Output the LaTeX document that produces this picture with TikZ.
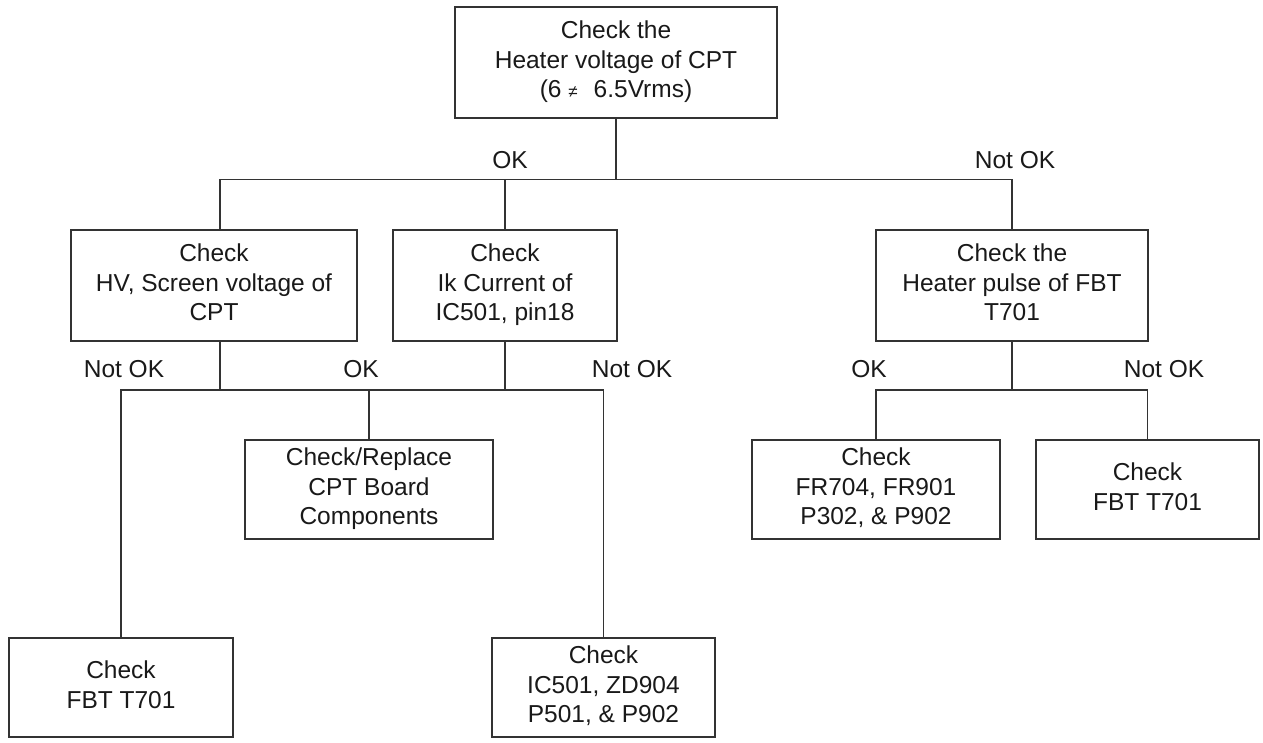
\documentclass[tikz,border=0pt]{standalone}
\usepackage{fontspec}
\setmainfont{Liberation Sans}
\newcommand{\boxstrut}{\rule[-6pt]{0pt}{29.5pt}}
\begin{document}
\begin{tikzpicture}[x=1pt,y=-1pt,
  box/.style={draw=black!80, line width=1.3pt, rectangle, inner sep=0pt, align=center,
    text=black!90, font=\fontsize{24.5}{29.5}\selectfont,
    execute at begin node=\boxstrut, execute at end node=\boxstrut},
  lbl/.style={inner sep=0pt, text=black!90, font=\fontsize{24.5}{29.5}\selectfont},
  conn/.style={draw=black!80, line width=1.3pt}]
\useasboundingbox (0,0) rectangle (1263,742);
% boxes
\node[box, minimum width=322pt, minimum height=111pt] (top) at (616,62.5)
  {Check the\\Heater voltage of CPT\\(6 {\fontsize{17}{20}\selectfont ≠}\hspace{16pt}6.5Vrms)};
\node[box, minimum width=286pt, minimum height=111pt] (A) at (214,285.5)
  {Check\\HV, Screen voltage of\\CPT};
\node[box, minimum width=224pt, minimum height=111pt] (B) at (505,285.5)
  {Check\\Ik Current of\\IC501, pin18};
\node[box, minimum width=272pt, minimum height=111pt] (C) at (1012,285.5)
  {Check the\\Heater pulse of FBT\\T701};
\node[box, minimum width=248pt, minimum height=99pt] (D) at (369,489.5)
  {Check/Replace\\CPT Board\\Components};
\node[box, minimum width=224pt, minimum height=99pt] (E) at (121,687.5)
  {Check\\FBT T701};
\node[box, minimum width=223pt, minimum height=99pt] (F) at (603.5,687.5)
  {Check\\IC501, ZD904\\P501, \& P902};
\node[box, minimum width=248pt, minimum height=99pt] (G) at (876,489.5)
  {Check\\FR704, FR901\\P302, \& P902};
\node[box, minimum width=223pt, minimum height=99pt] (H) at (1147.5,489.5)
  {Check\\FBT T701};
% labels
\node[lbl] (l1) at (510,160) {OK};
\node[lbl] (l2) at (1015,160) {Not OK};
\node[lbl] (l3) at (124,369) {Not OK};
\node[lbl] (l4) at (361,369) {OK};
\node[lbl] (l5) at (632,369) {Not OK};
\node[lbl] (l6) at (869,369) {OK};
\node[lbl] (l7) at (1164,369) {Not OK};
% bus coordinates
\coordinate (t1) at (220,179.5);
\coordinate (la) at (220,390);
\coordinate (rb) at (1012,390);
% connectors
\draw[conn] (top.south) -- (top.south |- t1);
\draw[conn] (A.north -| t1) |- (C.north |- t1) -- (C.north);
\draw[conn] (B.north) -- (B.north |- t1);
\draw[conn] (A.south -| la) -- (la);
\draw[conn] (B.south) -- (B.south |- la);
\draw[conn] (E.north) |- (F.north |- la) -- (F.north);
\draw[conn] (D.north) -- (D.north |- la);
\draw[conn] (C.south) -- (C.south |- rb);
\draw[conn] (G.north) |- (H.north |- rb) -- (H.north);
\end{tikzpicture}
\end{document}
